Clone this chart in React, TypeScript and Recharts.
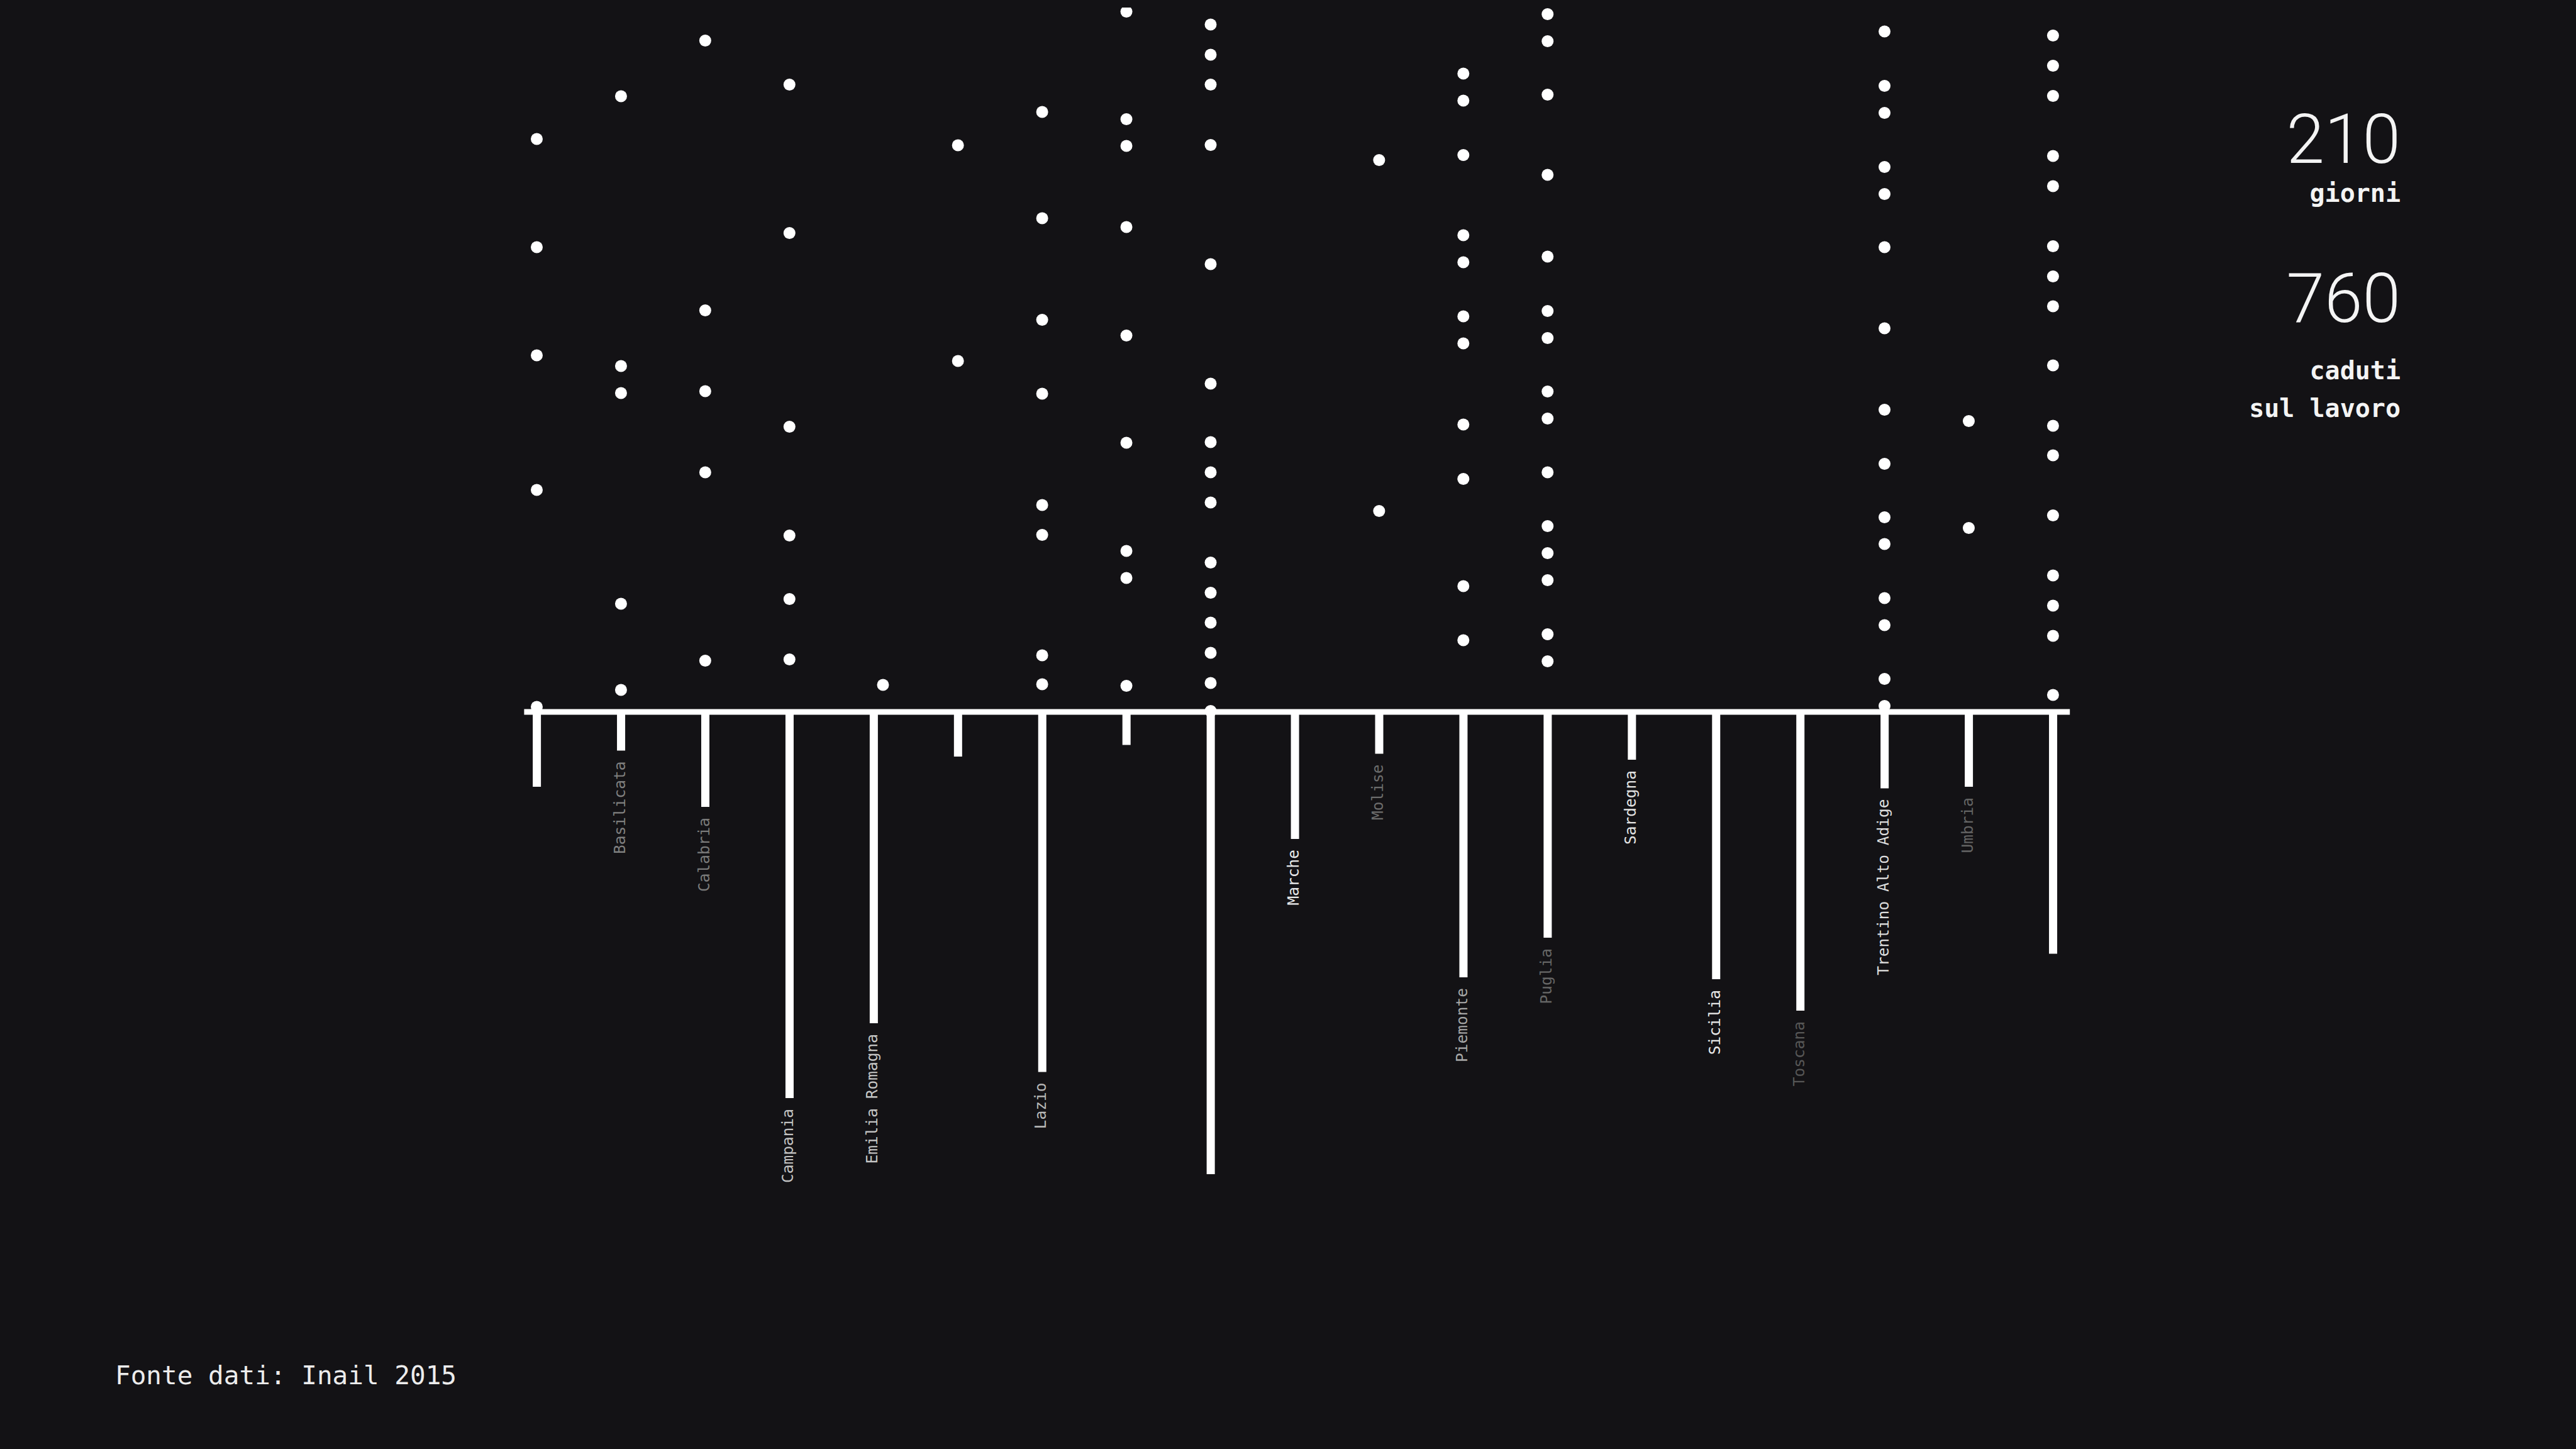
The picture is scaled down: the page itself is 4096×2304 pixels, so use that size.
import React from 'react';
import { ComposedChart, Bar, Scatter, XAxis, YAxis, ReferenceLine } from 'recharts';

// Regions (categories)
const regions = [
  'Abruzzo', 'Basilicata', 'Calabria', 'Campania', 'Emilia Romagna',
  'Friuli Venezia Giulia', 'Lazio', 'Liguria', 'Lombardia', 'Marche',
  'Molise', 'Piemonte', 'Puglia', 'Sardegna', 'Sicilia', 'Toscana',
  'Trentino Alto Adige', 'Umbria', 'Veneto',
];

// Accumulated fallen per region (drawn downward from the baseline)
const fallen = [
  -23.8, -12.3, -30.2, -122.8, -99.0, -14.2, -114.5, -10.5, -147.0, -40.4,
  -13.3, -84.4, -71.8, -15.2, -85.0, -95.0, -24.3, -23.8, -76.9,
];

// Label tone per region (null = label faded out)
const labelTone: (string | null)[] = [
  null, '#7f7f7f', '#7a7a7a', '#c2c2c2', '#c6c6c6', null, '#b8b8b8', null, null, '#e8e8e8',
  '#6c6c6c', '#a6a6a6', '#666666', '#e2e2e2', '#e8e8e8', '#575757', '#dedede', '#646464', null,
];

// Falling dots per region (height above baseline)
const dotsAbruzzo = [182.2, 147.8, 113.4, 70.6, 1.6];
const dotsBasilicata = [195.8, 110.0, 101.4, 34.4, 7.0];
const dotsCalabria = [213.5, 127.7, 102.0, 76.2, 16.3];
const dotsCampania = [199.5, 152.3, 90.7, 56.1, 35.9, 16.7];
const dotsEmilia = [8.6];
const dotsFriuli = [180.2, 111.6];
const dotsLazio = [190.8, 157.0, 124.7, 101.2, 65.8, 56.3, 18.0, 8.8];
const dotsLiguria = [222.7, 188.5, 180.0, 154.2, 119.7, 85.6, 51.2, 42.6, 8.3];
const dotsLombardia = [218.6, 209.0, 199.5, 180.3, 142.4, 104.4, 85.8, 76.2, 66.6, 47.5, 37.9, 28.4, 18.8, 9.2, 0.3];
const dotsMarche: number[] = [];
const dotsMolise = [175.5, 63.9];
const dotsPiemonte = [203.0, 194.4, 177.1, 151.6, 143.0, 125.8, 117.2, 91.4, 74.1, 40.0, 22.8];
const dotsPuglia = [221.9, 213.3, 196.3, 170.8, 144.8, 127.5, 118.9, 101.9, 93.3, 76.2, 59.1, 50.5, 41.9, 24.7, 16.1];
const dotsSardegna: number[] = [];
const dotsSicilia: number[] = [];
const dotsToscana: number[] = [];
const dotsTrentino = [216.4, 199.1, 190.5, 173.3, 164.7, 147.8, 122.0, 96.1, 78.9, 61.9, 53.4, 36.2, 27.6, 10.5, 1.9];
const dotsUmbria = [92.5, 58.5];
const dotsVeneto = [215.1, 205.5, 195.9, 176.8, 167.2, 148.1, 138.5, 129.0, 110.2, 91.0, 81.6, 62.5, 43.4, 33.8, 24.2, 5.4];

const falling = [
  dotsAbruzzo, dotsBasilicata, dotsCalabria, dotsCampania, dotsEmilia, dotsFriuli,
  dotsLazio, dotsLiguria, dotsLombardia, dotsMarche, dotsMolise, dotsPiemonte,
  dotsPuglia, dotsSardegna, dotsSicilia, dotsToscana, dotsTrentino, dotsUmbria, dotsVeneto,
];

// Sideways drift of the falling dots (in category units)
const drift = [0, 0, 0, 0, 0.11, 0, 0, 0, 0, 0, 0, 0, 0, 0, 0, 0, 0, 0, 0];

const barRows = regions.map((region, i) => ({ x: i, region, fallen: fallen[i] }));
const dotRows = falling.flatMap((list, i) => list.map((y) => ({ x: i + drift[i], y })));

const BG = '#131215';
const MONO = '"DejaVu Sans Mono", "Liberation Mono", monospace';

const BarWithLabel = (props: any) => {
  const { x, y, width, height, payload } = props;
  if (x == null || y == null) return null;
  const top = Math.min(y, y + height);
  const bottom = Math.max(y, y + height);
  const cx = x + width / 2;
  const idx = payload ? payload.x : props.index;
  const tone = labelTone[idx];
  const ly = bottom + 17;
  return (
    <g>
      <rect x={x} y={top} width={width} height={bottom - top} fill="#ffffff" />
      {tone && (
        <text
          x={cx}
          y={ly}
          dy={6}
          transform={`rotate(-90, ${cx}, ${ly})`}
          textAnchor="end"
          fill={tone}
          fontFamily={MONO}
          fontSize={24.5}
        >
          {regions[idx]}
        </text>
      )}
    </g>
  );
};

const Dot = (props: any) => {
  const { cx, cy } = props;
  if (cx == null || cy == null) return null;
  return <circle cx={cx} cy={cy} r={9.5} fill="#ffffff" />;
};

export default function App() {
  return (
    <div style={{ position: 'absolute', left: 0, top: 0, width: 4096, height: 2304, background: BG, overflow: 'hidden' }}>
      <ComposedChart
        width={4096}
        height={2304}
        data={barRows}
        margin={{ top: 12, right: 804.8, bottom: 172, left: 833.4 }}
      >
        <XAxis type="number" dataKey="x" domain={[-0.15, 18.2]} allowDataOverflow hide />
        <YAxis type="number" domain={[-200, 224]} allowDataOverflow hide />
        <Bar dataKey="fallen" fill="#ffffff" barSize={13} shape={BarWithLabel} isAnimationActive={false} />
        <ReferenceLine y={0} stroke="#ffffff" strokeWidth={9} ifOverflow="visible" />
        <Scatter data={dotRows} dataKey="y" shape={Dot} isAnimationActive={false} />
      </ComposedChart>
      <svg width={4096} height={2304} style={{ position: 'absolute', left: 0, top: 0, pointerEvents: 'none' }}>
        <text x={3817} y={259} textAnchor="end" fill="#f4f4f4" fontFamily="Roboto, 'Open Sans', sans-serif" fontWeight={300} fontSize={109}>210</text>
        <text x={3817} y={321} textAnchor="end" fill="#f4f4f4" fontFamily={MONO} fontWeight={700} fontSize={40}>giorni</text>
        <text x={3817} y={512} textAnchor="end" fill="#f4f4f4" fontFamily="Roboto, 'Open Sans', sans-serif" fontWeight={300} fontSize={109}>760</text>
        <text x={3817} y={603} textAnchor="end" fill="#f4f4f4" fontFamily={MONO} fontWeight={700} fontSize={40}>caduti</text>
        <text x={3817} y={663} textAnchor="end" fill="#f4f4f4" fontFamily={MONO} fontWeight={700} fontSize={40}>sul lavoro</text>
        <text x={183} y={2201} fill="#ececec" fontFamily={MONO} fontSize={41}>Fonte dati: Inail 2015</text>
      </svg>
    </div>
  );
}
